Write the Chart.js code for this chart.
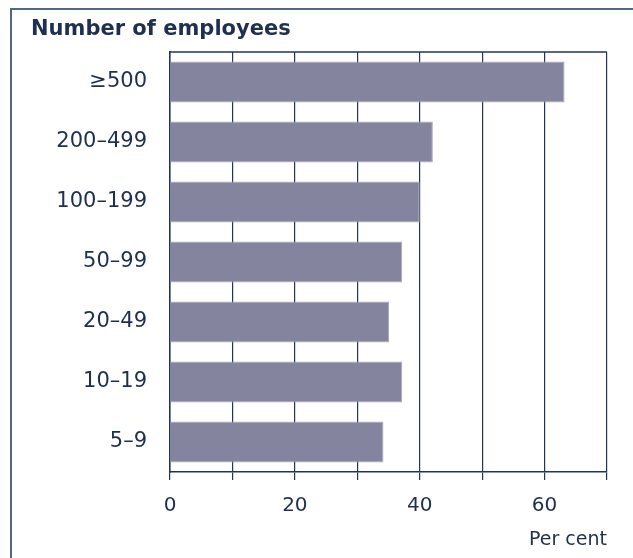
<!DOCTYPE html>
<html>
<head>
<meta charset="utf-8">
<script src="https://cdn.jsdelivr.net/npm/chart.js@4"></script>
<style>
  body { margin: 0; background: #fff; }
  #frame {
    position: absolute; left: 10px; top: 8px; width: 640px; height: 600px;
    border-left: 2px solid #52668a; border-top: 2px solid #52668a;
  }
  #myChart { position: absolute; left: 0; top: 0; }
</style>
</head>
<body>
<div id="frame"></div>
<canvas id="myChart" width="633" height="558"></canvas>
<script>
// data block
const categories = ['≥500', '200–499', '100–199', '50–99', '20–49', '10–19', '5–9'];
const shares = [63.2, 42.1, 40, 37.2, 35.1, 37.2, 34.2];
const xMin = 0;
const xMax = 70;
const xStep = 10;
const labelEvery = 20;

const navy = '#233456';
const textColor = '#1f2f50';

// draws top edge of the plot box (the axes only give left/bottom/grid)
const boxTop = {
    id: 'boxTop',
    afterDraw(chart) {
        const {ctx, chartArea} = chart;
        ctx.save();
        ctx.strokeStyle = navy;
        ctx.lineWidth = 1.5;
        ctx.beginPath();
        ctx.moveTo(chartArea.left, chartArea.top);
        ctx.lineTo(chartArea.right, chartArea.top);
        ctx.stroke();
        ctx.restore();
    }
};

const data = {
    labels: categories,
    datasets: [{
        data: shares,
        backgroundColor: '#84849f',
        borderColor: '#a6a6bd',
        borderWidth: 1,
        barPercentage: 0.68,
        categoryPercentage: 1
    }]
};

const config = {
    type: 'bar',
    data,
    options: {
        indexAxis: 'y',
        responsive: false,
        animation: false,
        devicePixelRatio: 1,
        layout: { padding: { left: 31, right: 26, top: 0, bottom: 0 } },
        plugins: {
            legend: { display: false },
            tooltip: { enabled: false },
            title: {
                display: true,
                text: 'Number of employees',
                align: 'start',
                color: textColor,
                font: { family: 'DejaVu Sans', size: 21, weight: 'bold' },
                padding: { top: 17.4, bottom: 9.4 }
            }
        },
        scales: {
            x: {
                min: xMin,
                max: xMax,
                afterFit(scale) { scale.height = 86; },
                ticks: {
                    stepSize: xStep,
                    color: textColor,
                    font: { family: 'DejaVu Sans', size: 20 },
                    padding: 14,
                    maxRotation: 0,
                    callback: (v) => (v % labelEvery === 0 ? v : '')
                },
                grid: { color: navy, lineWidth: 1.2, tickLength: 8, drawTicks: true },
                border: { color: navy, width: 1.5 },
                title: {
                    display: true,
                    text: 'Per cent',
                    align: 'end',
                    color: textColor,
                    font: { family: 'DejaVu Sans', size: 19 },
                    padding: { top: 0, bottom: 7 }
                }
            },
            y: {
                afterFit(scale) { scale.width = 139; },
                ticks: {
                    color: textColor,
                    font: { family: 'DejaVu Sans', size: 21 },
                    padding: 23
                },
                grid: { display: false, drawTicks: false },
                border: { color: navy, width: 1.5 }
            }
        }
    },
    plugins: [boxTop]
};

const myChart = new Chart(document.getElementById('myChart'), config);
</script>
</body>
</html>
